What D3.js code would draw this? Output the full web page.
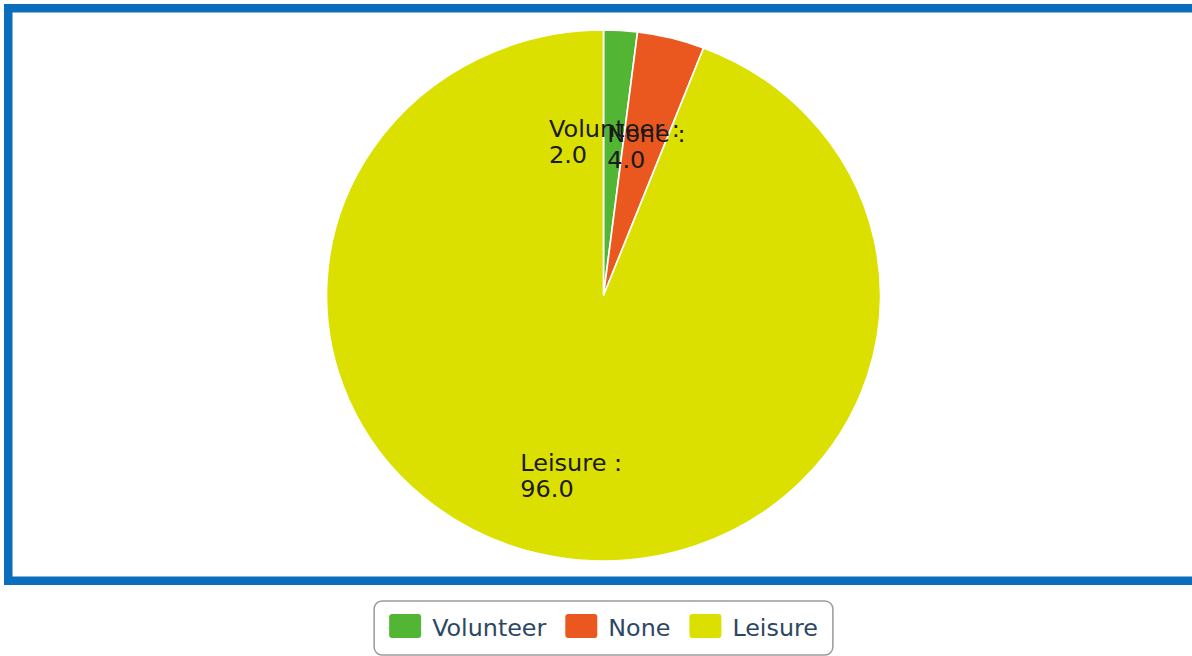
<!DOCTYPE html>
<html>
<head>
<meta charset="utf-8">
<script src="https://cdn.jsdelivr.net/npm/d3@7"></script>
<style>
  html, body { margin: 0; padding: 0; background: #fff; }
  svg { display: block; }
</style>
</head>
<body>
<svg id="chart" width="1192" height="656"></svg>
<script>
const categories = ["Volunteer", "None", "Leisure"];
const values = [2.0, 4.0, 96.0];
const colors = ["#52b634", "#ea581f", "#dbe000"];

const W = 1192, H = 656;
const svg = d3.select("#chart");

// Frame (right edge runs off the picture)
svg.append("rect")
  .attr("x", 8.25).attr("y", 8.25)
  .attr("width", 1200).attr("height", 572.5)
  .attr("fill", "#fff")
  .attr("stroke", "#0a6ebd")
  .attr("stroke-width", 8.5);

// Pie (slightly wider than tall, as in the reference)
const cx = 603.5, cy = 295.5, rx = 277, ry = 265.5;
const data = categories.map((c, i) => ({ name: c, value: values[i], color: colors[i] }));
const pie = d3.pie().sort(null).value(d => d.value);
const arcs = pie(data);
const arc = d3.arc().innerRadius(0).outerRadius(ry);
const labelArc = d3.arc().innerRadius(ry * 0.635).outerRadius(ry * 0.635);

const g = svg.append("g")
  .attr("transform", `translate(${cx},${cy}) scale(${rx / ry},1)`);

g.selectAll("path.slice")
  .data(arcs)
  .join("path")
  .attr("class", "slice")
  .attr("d", arc)
  .attr("fill", d => d.data.color)
  .attr("stroke", "#fff")
  .attr("stroke-width", 1.6)
  .attr("stroke-linejoin", "round");

const fmt = d3.format(".1f");
const labels = g.selectAll("text.lbl")
  .data(arcs)
  .join("text")
  .attr("class", "lbl")
  .attr("font-family", "DejaVu Sans, sans-serif")
  .attr("font-size", 23)
  .attr("fill", "#1a1a1a");

labels.each(function (d) {
  const t = d3.select(this);
  const [px, py] = labelArc.centroid(d);
  const l1 = t.append("tspan").text(d.data.name + " :");
  const w = l1.node().getComputedTextLength();
  const x0 = px - w / 2;
  l1.attr("x", x0).attr("y", py + 9.5);
  t.append("tspan").attr("x", x0).attr("y", py + 9.5 + 26.5).text(fmt(d.data.value));
});

// Legend
const legFont = 23.8;
const sw = 32, sh = 24, gapST = 11, gapItem = 19, padX = 15;
const leg = svg.append("g");
const tmp = leg.append("text")
  .attr("font-family", "DejaVu Sans, sans-serif")
  .attr("font-size", legFont);
const widths = categories.map(c => { tmp.text(c); return tmp.node().getComputedTextLength(); });
tmp.remove();
let total = padX * 2;
widths.forEach((w, i) => { total += sw + gapST + w + (i < widths.length - 1 ? gapItem : 0); });
const boxX = cx - total / 2, boxY = 601, boxH = 54;
leg.append("rect")
  .attr("x", boxX).attr("y", boxY)
  .attr("width", total).attr("height", boxH)
  .attr("rx", 8).attr("ry", 8)
  .attr("fill", "#fff")
  .attr("stroke", "#9a9a9a")
  .attr("stroke-width", 1.5);
let xx = boxX + padX;
categories.forEach((c, i) => {
  leg.append("rect")
    .attr("x", xx).attr("y", 614)
    .attr("width", sw).attr("height", sh)
    .attr("rx", 3).attr("ry", 3)
    .attr("fill", colors[i]);
  xx += sw + gapST;
  leg.append("text")
    .attr("x", xx).attr("y", 636)
    .attr("font-family", "DejaVu Sans, sans-serif")
    .attr("font-size", legFont)
    .attr("fill", "#2c4763")
    .text(c);
  xx += widths[i] + gapItem;
});
</script>
</body>
</html>
